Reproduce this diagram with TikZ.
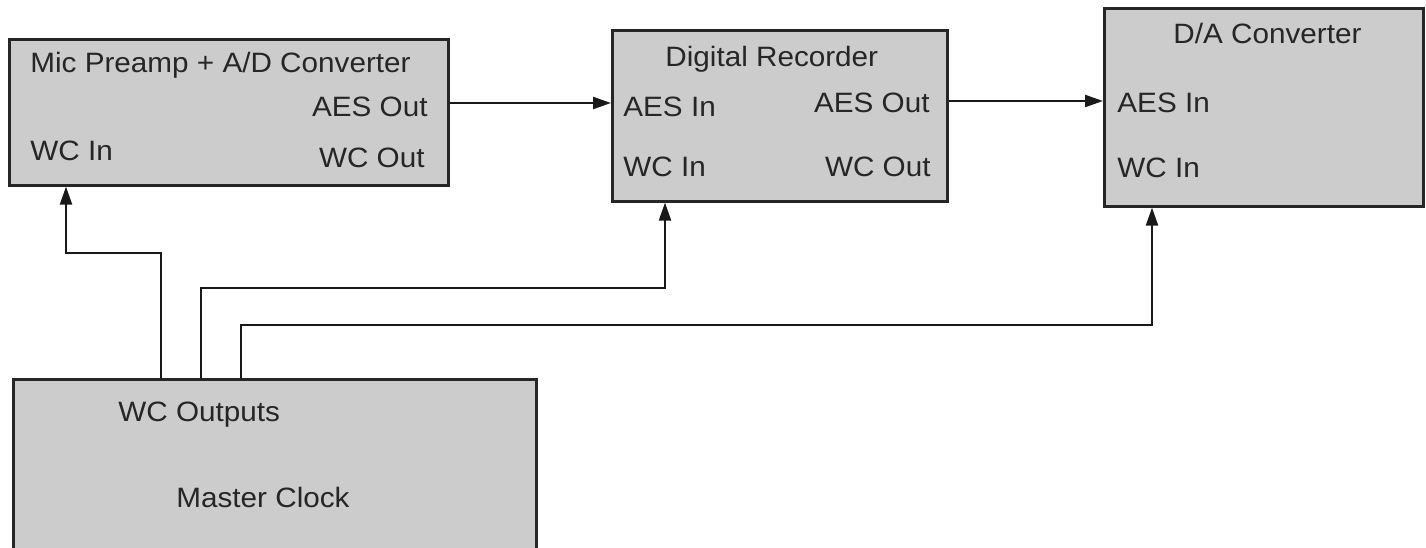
\documentclass[tikz,border=0pt]{standalone}
\usepackage{fontspec}
\setmainfont[FakeStretch=1.06]{Liberation Sans}
\usetikzlibrary{calc,arrows.meta}
\definecolor{boxgray}{RGB}{204,204,204}
\begin{document}
\begin{tikzpicture}[x=0.5pt,y=-0.5pt,
  blk/.style={draw=black!85,line width=1.3pt,fill=boxgray,inner sep=0pt,anchor=north west},
  lbl/.style={font=\fontsize{14}{16}\selectfont,inner sep=0pt,text=black!85},
  arr/.style={line width=1.1pt,draw=black!90,-{Triangle[length=9pt,width=6pt]}}]
\useasboundingbox[fill=white] (0,0) rectangle (1426,547);
% boxes
\node[blk,minimum width=219.5pt,minimum height=73pt] (b1) at (8,38) {};
\node[blk,minimum width=167.5pt,minimum height=85.5pt] (b2) at (611,29) {};
\node[blk,minimum width=159.5pt,minimum height=99pt] (b3) at (1103,7) {};
\node[blk,minimum width=261.5pt,minimum height=91pt] (mc) at (12,378) {};
% labels box 1
\node[lbl,anchor=base west] (t1a) at (30,72) {Mic Preamp + A/D Converter};
\node[lbl,anchor=base east] (t1b) at (428,116) {AES Out};
\node[lbl,anchor=base west] (t1c) at (30,160) {WC In};
\node[lbl,anchor=base east] (t1d) at (425,167) {WC Out};
% labels box 2
\node[lbl,anchor=base west] (t2a) at (665,66) {Digital Recorder};
\node[lbl,anchor=base west] (t2b) at (623,116) {AES In};
\node[lbl,anchor=base east] (t2c) at (930,112) {AES Out};
\node[lbl,anchor=base west] (t2d) at (623,176) {WC In};
\node[lbl,anchor=base east] (t2e) at (931,176) {WC Out};
% labels box 3
\node[lbl,anchor=base west] (t3a) at (1173,43) {D/A Converter};
\node[lbl,anchor=base west] (t3b) at (1117,112) {AES In};
\node[lbl,anchor=base west] (t3c) at (1117,177) {WC In};
% labels master clock
\node[lbl,anchor=base west] (t4a) at (118,421) {WC Outputs};
\node[lbl,anchor=base west] (t4b) at (176,507) {Master Clock};
% AES connections
\coordinate (a1) at ($(b1.north east)+(0,65)$);
\draw[arr] (a1) -- (a1 -| b2.west);
\coordinate (a2) at ($(b2.north east)+(0,72)$);
\draw[arr] (a2) -- (a2 -| b3.west);
% word clock connections
\draw[arr] ($(mc.north west)+(149,0)$) -- ++(0,-125) -| ($(b1.south west)+(58,0)$);
\draw[arr] ($(mc.north west)+(189,0)$) -- ++(0,-90) -| ($(b2.south west)+(54,0)$);
\draw[arr] ($(mc.north west)+(229,0)$) -- ++(0,-53) -| ($(b3.south west)+(49,0)$);
\end{tikzpicture}
\end{document}
